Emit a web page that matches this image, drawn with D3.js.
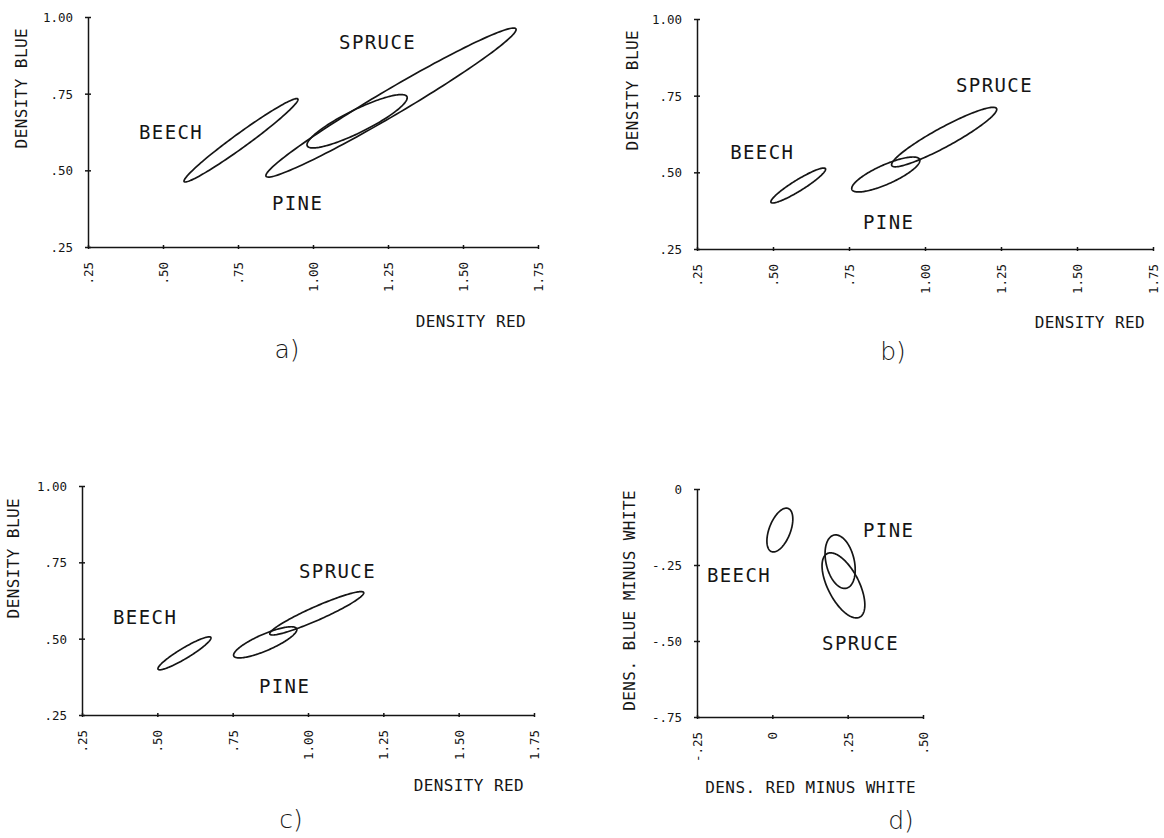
<!DOCTYPE html>
<html>
<head>
<meta charset="utf-8">
<title>Density ellipses - beech, pine, spruce</title>
<script src="https://d3js.org/d3.v7.min.js"></script>
<style>
  body { margin: 0; background: #fff; }
  text { font-family: "DejaVu Sans Mono", monospace; fill: #151515; }
  .tick text { font-size: 12.5px; fill: #151515; font-family: "DejaVu Sans Mono", monospace; }
  .axis-title { font-size: 16px; letter-spacing: 0.4px; }
  .species { font-size: 19px; letter-spacing: 1.4px; }
  .caption { font-family: "DejaVu Sans", sans-serif; font-size: 25px; font-weight: 200; }
  .ellipse { fill: none; stroke: #151515; stroke-width: 1.7px; }
  .domain, .tick line { stroke: #151515; stroke-width: 1.5px; }
</style>
</head>
<body>
<svg id="chart" width="1164" height="838"></svg>
<script>
// species in each panel
var species = ["BEECH", "PINE", "SPRUCE"];
var panelNames = ["a)", "b)", "c)", "d)"];

// ellipse centre / half-range / correlation, [panel][species]
var meanX  = [[0.76, 1.147, 1.26], [0.583, 0.871, 1.063], [0.59, 0.858, 1.029], [0.025, 0.225, 0.236]];
var meanY  = [[0.598, 0.66, 0.721], [0.457, 0.493, 0.615], [0.452, 0.488, 0.583], [-0.135, -0.239, -0.317]];
var rangeX = [[0.19, 0.167, 0.417], [0.09, 0.112, 0.173], [0.088, 0.105, 0.156], [0.043, 0.05, 0.071]];
var rangeY = [[0.136, 0.087, 0.243], [0.057, 0.057, 0.097], [0.054, 0.051, 0.071], [0.072, 0.088, 0.107]];
var corr   = [[0.978, 0.88, 0.98], [0.93, 0.8, 0.93], [0.93, 0.82, 0.94], [0.5, -0.3, -0.6]];

// ticks
var densTicks = [0.25, 0.5, 0.75, 1.0, 1.25, 1.5, 1.75];
var densTickLabels = [".25", ".50", ".75", "1.00", "1.25", "1.50", "1.75"];
var blueTicks = [0.25, 0.5, 0.75, 1.0];
var blueTickLabels = [".25", ".50", ".75", "1.00"];
var diffXTicks = [-0.25, 0, 0.25, 0.5];
var diffXTickLabels = ["-.25", "0", ".25", ".50"];
var diffYTicks = [-0.75, -0.5, -0.25, 0];
var diffYTickLabels = ["-.75", "-.50", "-.25", "0"];

// species label anchors (data units), [panel][species]
var labelX = [[0.42, 0.863, 1.087], [0.359, 0.796, 1.102], [0.353, 0.837, 0.97], [-0.217, 0.301, 0.165]];
var labelY = [[0.602, 0.371, 0.896], [0.543, 0.315, 0.762], [0.548, 0.322, 0.699], [-0.306, -0.158, -0.53]];

// layout of the four panels (pixels)
var layout = [
    {xd: [0.25, 1.75], xr: [88, 538], yd: [0.25, 1.0], yr: [247, 17],
     xt: densTicks, xl: densTickLabels, yt: blueTicks, yl: blueTickLabels,
     xTitle: "DENSITY RED", yTitle: "DENSITY BLUE",
     xTitlePos: [526, 327], yTitlePos: [21, 28], cap: [287, 358]},
    {xd: [0.25, 1.75], xr: [697, 1153], yd: [0.25, 1.0], yr: [249, 19],
     xt: densTicks, xl: densTickLabels, yt: blueTicks, yl: blueTickLabels,
     xTitle: "DENSITY RED", yTitle: "DENSITY BLUE",
     xTitlePos: [1145, 328], yTitlePos: [632, 30], cap: [893, 360]},
    {xd: [0.25, 1.75], xr: [82, 534], yd: [0.25, 1.0], yr: [715, 486],
     xt: densTicks, xl: densTickLabels, yt: blueTicks, yl: blueTickLabels,
     xTitle: "DENSITY RED", yTitle: "DENSITY BLUE",
     xTitlePos: [524, 791], yTitlePos: [13, 498], cap: [291, 828]},
    {xd: [-0.25, 0.5], xr: [697, 923], yd: [-0.75, 0], yr: [717, 489],
     xt: diffXTicks, xl: diffXTickLabels, yt: diffYTicks, yl: diffYTickLabels,
     xTitle: "DENS. RED MINUS WHITE", yTitle: "DENS. BLUE MINUS WHITE",
     xTitlePos: [916, 793], yTitlePos: [629, 490], cap: [901, 829]}
];

var svg = d3.select("#chart");

// points round a correlation ellipse
function ellipsePoints(cx, cy, sx, sy, r) {
    var k = Math.sqrt(1 - r * r);
    return d3.range(160).map(function(i) {
        var t = i / 160 * 2 * Math.PI;
        return [cx + sx * Math.cos(t), cy + sy * (r * Math.cos(t) + k * Math.sin(t))];
    });
}

layout.forEach(function(p, pi) {
    var x = d3.scaleLinear().domain(p.xd).range(p.xr);
    var y = d3.scaleLinear().domain(p.yd).range(p.yr);
    var g = svg.append("g");

    // x axis, labels turned on their side
    var xa = g.append("g")
        .attr("transform", "translate(0," + p.yr[0] + ")")
        .call(d3.axisBottom(x).tickValues(p.xt)
            .tickFormat(function(d, i) { return p.xl[i]; })
            .tickSize(3).tickSizeOuter(0));
    xa.selectAll(".tick line").attr("y1", -2).attr("y2", 2);
    xa.selectAll(".tick text")
        .attr("transform", "rotate(-90)")
        .attr("text-anchor", "end")
        .attr("x", -15).attr("y", 0).attr("dy", "0.35em");

    // y axis
    var ya = g.append("g")
        .attr("transform", "translate(" + p.xr[0] + ",0)")
        .call(d3.axisLeft(y).tickValues(p.yt)
            .tickFormat(function(d, i) { return p.yl[i]; })
            .tickSize(3).tickSizeOuter(0));
    ya.selectAll(".tick line").attr("x1", -3).attr("x2", 3);
    ya.selectAll(".tick text").attr("x", -15).attr("dy", "0.35em");
    g.selectAll(".domain").attr("fill", "none");

    // axis titles
    g.append("text").attr("class", "axis-title")
        .attr("x", p.xTitlePos[0]).attr("y", p.xTitlePos[1])
        .attr("text-anchor", "end")
        .text(p.xTitle);
    g.append("text").attr("class", "axis-title")
        .attr("transform", "translate(" + p.yTitlePos[0] + "," + p.yTitlePos[1] + ") rotate(-90)")
        .attr("text-anchor", "end").attr("dy", "0.35em")
        .text(p.yTitle);

    // ellipses
    var line = d3.line()
        .x(function(d) { return x(d[0]); })
        .y(function(d) { return y(d[1]); })
        .curve(d3.curveLinearClosed);
    species.forEach(function(s, si) {
        g.append("path").attr("class", "ellipse")
            .attr("d", line(ellipsePoints(meanX[pi][si], meanY[pi][si],
                rangeX[pi][si], rangeY[pi][si], corr[pi][si])));
        g.append("text").attr("class", "species")
            .attr("x", x(labelX[pi][si])).attr("y", y(labelY[pi][si]))
            .text(s);
    });

    // panel caption
    g.append("text").attr("class", "caption")
        .attr("x", p.cap[0]).attr("y", p.cap[1])
        .attr("text-anchor", "middle")
        .text(panelNames[pi]);
});
</script>
</body>
</html>
